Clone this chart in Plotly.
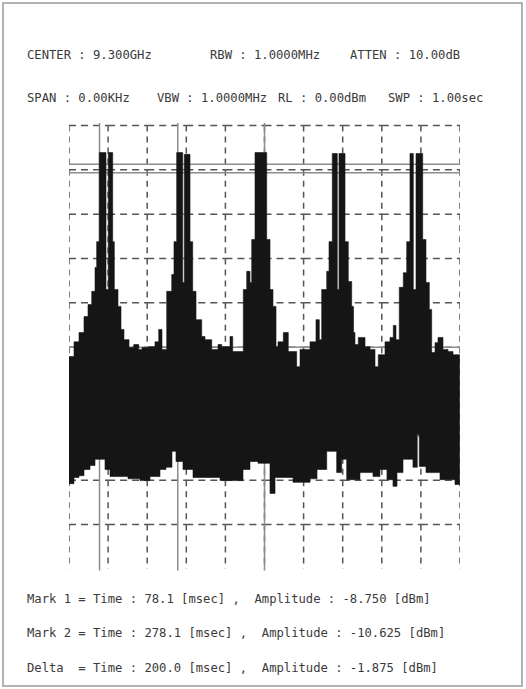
import plotly.graph_objects as go

# ---------------- data ----------------
# upper envelope of the zero-span trace: segment edges (ms) and level (dBm)
top_edges_ms = [0, 12.8, 25.6, 38.4, 48.6, 58.1, 66.5, 70.8, 77.5, 94.6,
                100.5, 111.8, 115.9, 125.3, 133.0, 140.6, 153.5, 165.5, 178.3, 186.7,
                203.8, 219.9, 229.4, 237.8, 249.9, 262.7, 268.5, 275.4, 290.8, 294.9,
                309.5, 316.4, 324.8, 339.4, 347.8, 365.0, 381.1, 390.5, 411.8, 418.7,
                445.8, 454.5, 462.9, 467.3, 475.7, 505.6, 514.1, 521.7, 529.4, 534.5,
                548.1, 560.8, 582.3, 590.8, 616.4, 631.7, 640.2, 646.3, 659.1, 665.0,
                673.4, 686.2, 690.5, 705.9, 714.3, 723.0, 727.6, 731.4, 739.9, 757.0,
                769.8, 782.6, 791.0, 808.2, 821.0, 829.4, 836.3, 844.7, 855.0, 863.7,
                872.1, 880.6, 887.5, 904.6, 913.0, 921.5, 927.6, 936.1, 943.7, 956.5,
                969.3, 982.1, 998.7]
top_dbm = [-52.1, -48.8, -46.7, -43.1, -40.4, -37.4, -32.0, -26.2, -6.1, -37.0,
           -6.1, -26.2, -37.0, -40.8, -46.0, -48.3, -50.1, -49.4, -50.5, -50.1,
           -49.9, -48.8, -46.0, -50.5, -37.4, -33.6, -26.2, -6.1, -35.4, -6.5,
           -26.2, -37.4, -43.8, -47.6, -48.3, -50.5, -49.4, -49.9, -47.6, -51.0,
           -37.0, -32.9, -35.4, -25.7, -6.1, -25.7, -37.0, -40.8, -49.9, -48.8,
           -46.7, -51.0, -54.4, -50.5, -48.8, -43.8, -48.3, -37.0, -32.9, -26.2,
           -6.3, -37.0, -6.3, -26.2, -35.2, -40.8, -46.7, -49.4, -47.8, -49.9,
           -50.5, -54.4, -51.7, -48.8, -47.8, -45.1, -48.3, -36.5, -33.2, -26.2,
           -6.3, -37.0, -6.3, -25.7, -35.4, -41.5, -51.2, -49.0, -47.8, -50.5,
           -51.0, -51.7]

# lower envelope of the trace
bot_edges_ms = [0, 12.8, 25.6, 38.4, 53.7, 66.5, 92.1, 104.9, 150.9, 181.6,
                207.2, 232.7, 248.1, 263.4, 273.6, 291.5, 317.1, 386.2, 445.0, 462.9,
                483.4, 514.1, 526.9, 572.9, 616.4, 634.3, 659.1, 684.6, 697.4, 710.2,
                744.2, 777.4, 795.3, 813.2, 828.6, 838.8, 854.2, 879.7, 890.7, 895.9,
                913.0, 948.8, 987.2, 998.7]
bot_dbm = [-80.8, -79.4, -79.0, -77.6, -76.7, -75.3, -77.6, -79.2, -79.7, -80.1,
           -79.2, -77.6, -77.1, -73.5, -75.8, -77.6, -79.4, -80.1, -77.6, -75.8,
           -76.2, -83.0, -79.4, -80.5, -79.7, -77.6, -73.5, -78.3, -75.3, -79.9,
           -78.3, -79.2, -77.6, -79.9, -81.4, -78.3, -75.3, -77.1, -69.7, -76.9,
           -78.3, -79.9, -81.0]

marker_times_ms = [78.1, 278.1]
marker_amps_dbm = [-8.750, -10.625]
center_time_ms = 500
threshold_dbm = -50

header_row1 = ["CENTER : 9.300GHz", "RBW : 1.0000MHz", "ATTEN : 10.00dB"]
header_row2 = ["SPAN : 0.00KHz", "VBW : 1.0000MHz", "RL : 0.00dBm", "SWP : 1.00sec"]
footer_rows = ["Mark 1 = Time : 78.1 [msec] ,  Amplitude : -8.750 [dBm]",
               "Mark 2 = Time : 278.1 [msec] ,  Amplitude : -10.625 [dBm]",
               "Delta  = Time : 200.0 [msec] ,  Amplitude : -1.875 [dBm]"]

x_ticks = list(range(0, 1001, 100))
y_ticks = list(range(0, -101, -10))

# ---------------- layout geometry ----------------
W, H = 526, 689
ML, MR, MT, MB = 69, 66, 122, 118
PW, PH = W - ML - MR, H - MT - MB


def px_x(p):
    return (p - ML) / PW


def px_y(p):
    return (H - MB - p) / PH


# ---------------- trace polygon ----------------
poly_x, poly_y = [], []
for i, v in enumerate(top_dbm):
    poly_x += [top_edges_ms[i], top_edges_ms[i + 1]]
    poly_y += [v, v]
for j in range(len(bot_dbm) - 1, -1, -1):
    poly_x += [bot_edges_ms[j + 1], bot_edges_ms[j]]
    poly_y += [bot_dbm[j], bot_dbm[j]]

fig = go.Figure()
fig.add_trace(go.Scatter(x=poly_x, y=poly_y, mode="lines", fill="toself",
                         fillcolor="#151515", line=dict(color="#151515", width=0.6),
                         hoverinfo="skip", showlegend=False))

shapes = []
grid_col = "#555555"
# dashed grid, each cell edge drawn separately so dashes start at every crossing
for yv in y_ticks[:-1]:
    for k in range(len(x_ticks) - 1):
        shapes.append(dict(type="line", layer="below", x0=x_ticks[k], x1=x_ticks[k + 1],
                           y0=yv, y1=yv, line=dict(color=grid_col, width=1.5, dash="7px,5px")))
for xv in x_ticks:
    for k in range(len(y_ticks) - 1):
        shapes.append(dict(type="line", layer="below", x0=xv, x1=xv,
                           y0=y_ticks[k], y1=y_ticks[k + 1],
                           line=dict(color=grid_col, width=1.5, dash="6px,5px")))

mk_col = "#8c8c8c"
for t in marker_times_ms + [center_time_ms]:
    shapes.append(dict(type="line", layer="below", x0=t, x1=t, y0=0.6, y1=-100.4,
                       line=dict(color=mk_col, width=1.5)))
for a in marker_amps_dbm + [threshold_dbm]:
    shapes.append(dict(type="line", layer="below", x0=0, x1=1000, y0=a, y1=a,
                       line=dict(color=mk_col, width=1.5)))

# outer frame
shapes.append(dict(type="rect", xref="paper", yref="paper",
                   x0=px_x(3), x1=px_x(522), y0=px_y(686), y1=px_y(3),
                   line=dict(color="#9a9a9a", width=1.5), fillcolor="rgba(0,0,0,0)"))

ann = []
font = dict(family="DejaVu Sans Mono", size=12.2, color="#3a3a3a")


def add_text(txt, x, yc):
    ann.append(dict(text=txt, xref="paper", yref="paper", x=px_x(x), y=px_y(yc),
                    xanchor="left", yanchor="middle", showarrow=False,
                    borderpad=0, font=font))


for txt, x in zip(header_row1, [26, 209, 349]):
    add_text(txt, x, 55)
for txt, x in zip(header_row2, [26, 156, 277, 387]):
    add_text(txt, x, 98)
for txt, yc in zip(footer_rows, [599, 633, 668]):
    add_text(txt, 26, yc)

fig.update_layout(
    width=W, height=H,
    margin=dict(l=ML, r=MR, t=MT, b=MB, pad=0),
    paper_bgcolor="white", plot_bgcolor="white",
    xaxis=dict(range=[0, 1000], showgrid=False, zeroline=False, showticklabels=False,
               ticks="", showline=False, fixedrange=True),
    yaxis=dict(range=[-100.5, 0.8], showgrid=False, zeroline=False, showticklabels=False,
               ticks="", showline=False, fixedrange=True),
    shapes=shapes, annotations=ann, showlegend=False,
)

fig.write_html("out.html", config={"displayModeBar": False},
               post_script="document.body.style.margin='0px';document.body.style.overflow='hidden';")
